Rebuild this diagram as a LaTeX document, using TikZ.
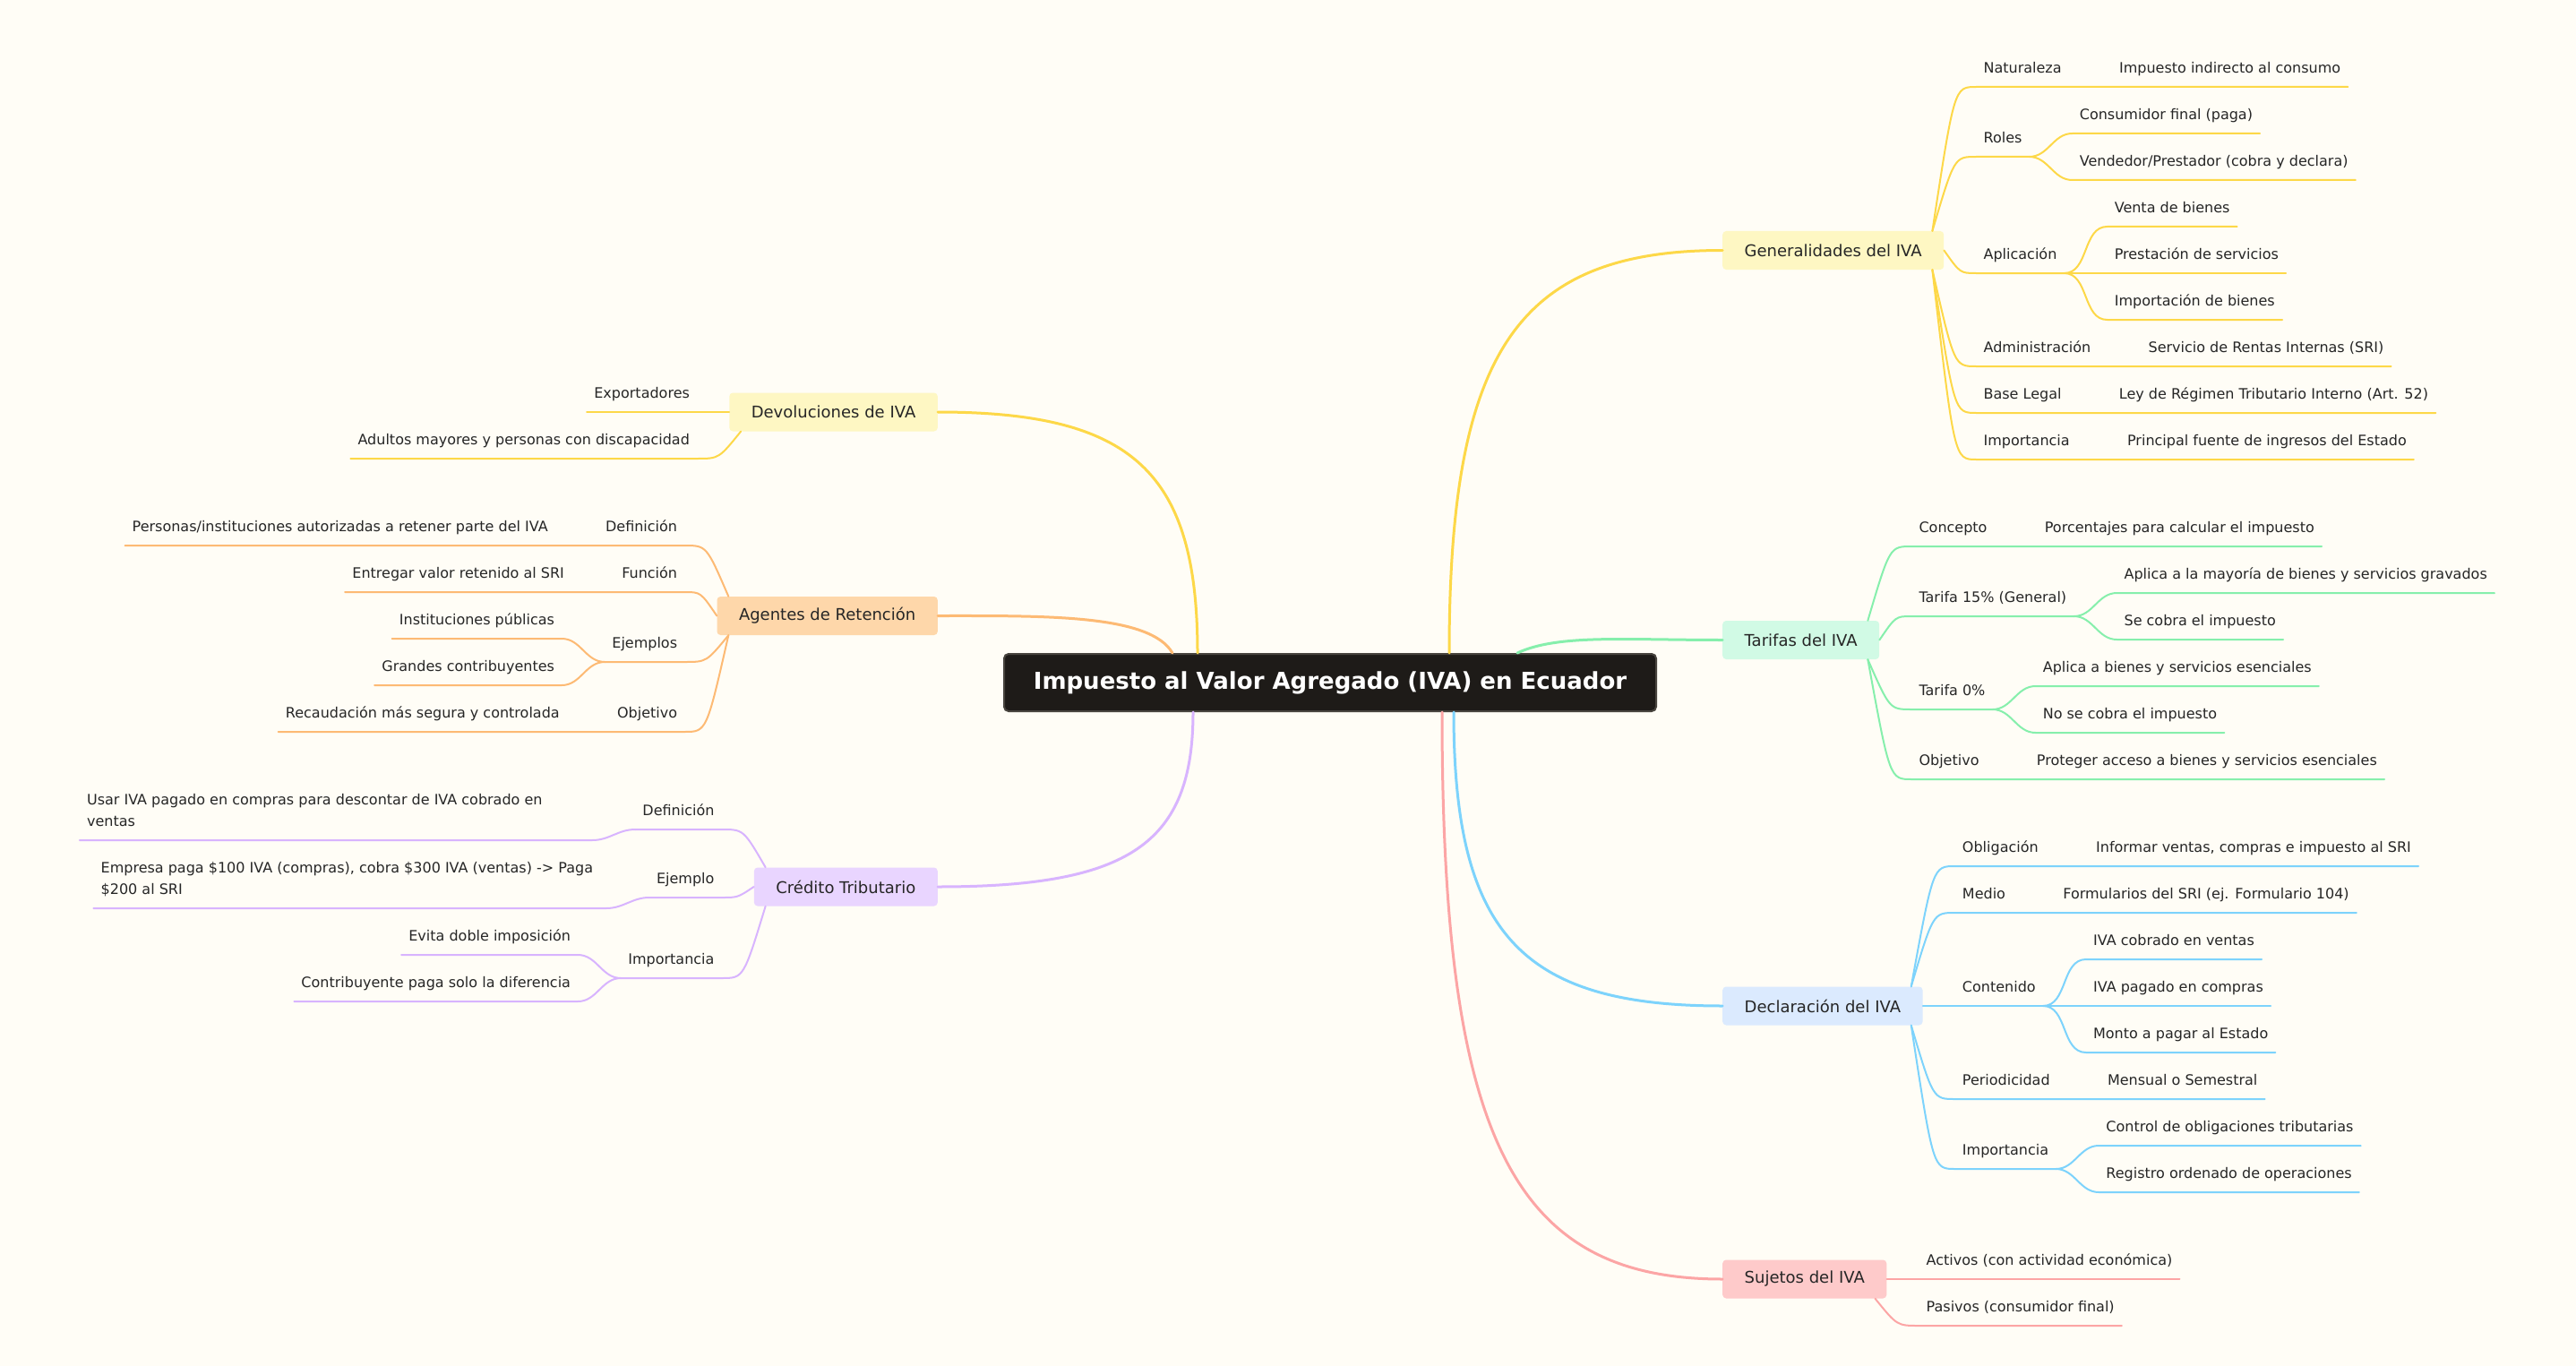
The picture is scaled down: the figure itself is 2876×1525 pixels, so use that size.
\documentclass[tikz,border=0pt]{standalone}
\usepackage{fontspec}
\setmainfont{DejaVu Sans}
\usepackage{tikz}
\usetikzlibrary{calc}

\definecolor{bg}{HTML}{FFFDF6}
\definecolor{ink}{HTML}{262626}
\definecolor{rootfill}{HTML}{1E1B18}
\definecolor{rootedge}{HTML}{48443E}
\definecolor{yelLine}{HTML}{FDD848}
\definecolor{yelFill}{HTML}{FEF7C3}
\definecolor{grnLine}{HTML}{86EFAC}
\definecolor{grnFill}{HTML}{D1FAE5}
\definecolor{bluLine}{HTML}{7DD3FC}
\definecolor{bluFill}{HTML}{DBEAFE}
\definecolor{pnkLine}{HTML}{FCA5A5}
\definecolor{pnkFill}{HTML}{FECACA}
\definecolor{orgLine}{HTML}{FDBA74}
\definecolor{orgFill}{HTML}{FED7AA}
\definecolor{purLine}{HTML}{D8B4FE}
\definecolor{purFill}{HTML}{E9D5FF}

\newcommand\fsmall{\fontsize{16}{24}\selectfont}
\newcommand\fmid{\fontsize{18}{22}\selectfont}
\newcommand\fbig{\fontsize{26}{30}\selectfont\bfseries}

\begin{document}
\begin{tikzpicture}[x=1pt, y=-1pt, line cap=round,
  rootbox/.style={draw=rootedge, fill=rootfill, line width=2, rounded corners=5,
                  text=white, font=\fbig, minimum width=728, minimum height=64},
  topic/.style={rounded corners=4, text=ink, font=\fmid, inner xsep=24.5,
                inner ysep=0, minimum height=43},
  leaf/.style={text=ink, font=\fsmall, inner xsep=8, inner ysep=11, text depth=4},
  trunk/.style={line width=3},
  twig/.style={line width=2}]
  \useasboundingbox[fill=bg] (0,0) rectangle (2876,1525);

  % centre and main topics
  \node[rootbox] (root) at (1485,762) {Impuesto al Valor Agregado (IVA) en Ecuador};
  \node[topic, fill=yelFill, anchor=west] (gen) at (1923,279.5) {Generalidades del IVA};
  \node[topic, fill=grnFill, anchor=west] (tar) at (1923,714.5) {Tarifas del IVA};
  \node[topic, fill=bluFill, anchor=west] (dec) at (1923,1123) {Declaración del IVA};
  \node[topic, fill=pnkFill, anchor=west] (suj) at (1923,1428) {Sujetos del IVA};
  \node[topic, fill=yelFill, anchor=east] (dev) at (1047,460) {Devoluciones de IVA};
  \node[topic, fill=orgFill, anchor=east] (age) at (1047,687.5) {Agentes de Retención};
  \node[topic, fill=purFill, anchor=east] (cre) at (1047,990) {Crédito Tributario};

  % main branches
  \draw[trunk, yelLine] ([xshift=133]root.north) to[out=90, in=180, out distance=337, in distance=229] (gen.west);
  \draw[trunk, grnLine] ([xshift=209]root.north) to[out=25, in=180, out distance=50, in distance=110] (tar.west);
  \draw[trunk, bluLine] ([xshift=138]root.south) to[out=-90, in=180, out distance=247, in distance=225] (dec.west);
  \draw[trunk, pnkLine] ([xshift=125]root.south) to[out=-90, in=180, out distance=475, in distance=235] (suj.west);
  \draw[trunk, yelLine] ([xshift=-148]root.north) to[out=90, in=0, out distance=202, in distance=218] (dev.east);
  \draw[trunk, orgLine] ([xshift=-176]root.north) to[out=120, in=0, out distance=50, in distance=120] (age.east);
  \draw[trunk, purLine] ([xshift=-153]root.south) to[out=-90, in=0, out distance=147, in distance=214] (cre.east);

  % start points of the sub-branches
  \coordinate (genT) at ([xshift=-13]gen.north east);
  \coordinate (genB) at ([xshift=-13]gen.south east);
  \coordinate (genX) at ([xshift=36]gen.east);
  \coordinate (tarT) at ([xshift=-13]tar.north east);
  \coordinate (tarB) at ([xshift=-13]tar.south east);
  \coordinate (tarX) at ([xshift=36]tar.east);
  \coordinate (decT) at ([xshift=-13]dec.north east);
  \coordinate (decB) at ([xshift=-13]dec.south east);
  \coordinate (decX) at ([xshift=36]dec.east);
  \coordinate (sujB) at ([xshift=-13]suj.south east);
  \coordinate (sujX) at ([xshift=36]suj.east);
  \coordinate (devB) at ([xshift=13]dev.south west);
  \coordinate (devX) at ([xshift=-36]dev.west);
  \coordinate (ageT) at ([xshift=13]age.north west);
  \coordinate (ageB) at ([xshift=13]age.south west);
  \coordinate (ageX) at ([xshift=-36]age.west);
  \coordinate (creT) at ([xshift=13]cre.north west);
  \coordinate (creB) at ([xshift=13]cre.south west);
  \coordinate (creX) at ([xshift=-36]cre.west);

  % Generalidades del IVA
  \node[leaf, anchor=south west] (gNat) at (genX |- 0,97) {Naturaleza};
  \node[leaf, anchor=south west] (gNat1) at ([xshift=48]gNat.south east) {Impuesto indirecto al consumo};
  \node[leaf, anchor=south west] (gRol) at (genX |- 0,175) {Roles};
  \node[leaf, anchor=south west] (gRol1) at ([xshift=48,yshift=26]gRol.south east) {Consumidor final (paga)};
  \node[leaf, anchor=south west] (gRol2) at ([xshift=48,yshift=-26]gRol.south east) {Vendedor/Prestador (cobra y declara)};
  \node[leaf, anchor=south west] (gApl) at (genX |- 0,305) {Aplicación};
  \node[leaf, anchor=south west] (gApl1) at ([xshift=48,yshift=52]gApl.south east) {Venta de bienes};
  \node[leaf, anchor=south west] (gApl2) at ([xshift=48]gApl.south east) {Prestación de servicios};
  \node[leaf, anchor=south west] (gApl3) at ([xshift=48,yshift=-52]gApl.south east) {Importación de bienes};
  \node[leaf, anchor=south west] (gAdm) at (genX |- 0,409) {Administración};
  \node[leaf, anchor=south west] (gAdm1) at ([xshift=48]gAdm.south east) {Servicio de Rentas Internas (SRI)};
  \node[leaf, anchor=south west] (gBas) at (genX |- 0,461) {Base Legal};
  \node[leaf, anchor=south west] (gBas1) at ([xshift=48]gBas.south east) {Ley de Régimen Tributario Interno (Art. 52)};
  \node[leaf, anchor=south west] (gImp) at (genX |- 0,513) {Importancia};
  \node[leaf, anchor=south west] (gImp1) at ([xshift=48]gImp.south east) {Principal fuente de ingresos del Estado};
  \begin{scope}[twig, yelLine]
    \draw (genT) .. controls ($(genT |- gNat.south west)!0.5!(gNat.south west)$) .. (gNat.south west) -- (gNat1.south east);
    \draw (genT) .. controls ($(genT |- gRol.south west)!0.5!(gRol.south west)$) .. (gRol.south west) -- (gRol.south east);
    \draw (gRol.south east) to[out=0, in=180] (gRol1.south west) -- (gRol1.south east);
    \draw (gRol.south east) to[out=0, in=180] (gRol2.south west) -- (gRol2.south east);
    \draw (gen.east) .. controls ($(gen.east |- gApl.south west)!0.5!(gApl.south west)$) .. (gApl.south west) -- (gApl.south east);
    \draw (gApl.south east) to[out=0, in=180] (gApl1.south west) -- (gApl1.south east);
    \draw (gApl.south east) -- (gApl2.south west) -- (gApl2.south east);
    \draw (gApl.south east) to[out=0, in=180] (gApl3.south west) -- (gApl3.south east);
    \draw (genB) .. controls ($(genB |- gAdm.south west)!0.5!(gAdm.south west)$) .. (gAdm.south west) -- (gAdm1.south east);
    \draw (genB) .. controls ($(genB |- gBas.south west)!0.5!(gBas.south west)$) .. (gBas.south west) -- (gBas1.south east);
    \draw (genB) .. controls ($(genB |- gImp.south west)!0.5!(gImp.south west)$) .. (gImp.south west) -- (gImp1.south east);
  \end{scope}

  % Tarifas del IVA
  \node[leaf, anchor=south west] (tCon) at (tarX |- 0,610) {Concepto};
  \node[leaf, anchor=south west] (tCon1) at ([xshift=48]tCon.south east) {Porcentajes para calcular el impuesto};
  \node[leaf, anchor=south west] (tGen) at (tarX |- 0,688) {Tarifa 15\% (General)};
  \node[leaf, anchor=south west] (tGen1) at ([xshift=48,yshift=26]tGen.south east) {Aplica a la mayoría de bienes y servicios gravados};
  \node[leaf, anchor=south west] (tGen2) at ([xshift=48,yshift=-26]tGen.south east) {Se cobra el impuesto};
  \node[leaf, anchor=south west] (tCero) at (tarX |- 0,792) {Tarifa 0\%};
  \node[leaf, anchor=south west] (tCero1) at ([xshift=48,yshift=26]tCero.south east) {Aplica a bienes y servicios esenciales};
  \node[leaf, anchor=south west] (tCero2) at ([xshift=48,yshift=-26]tCero.south east) {No se cobra el impuesto};
  \node[leaf, anchor=south west] (tObj) at (tarX |- 0,870) {Objetivo};
  \node[leaf, anchor=south west] (tObj1) at ([xshift=48]tObj.south east) {Proteger acceso a bienes y servicios esenciales};
  \begin{scope}[twig, grnLine]
    \draw (tarT) .. controls ($(tarT |- tCon.south west)!0.5!(tCon.south west)$) .. (tCon.south west) -- (tCon1.south east);
    \draw (tar.east) .. controls ($(tar.east |- tGen.south west)!0.5!(tGen.south west)$) .. (tGen.south west) -- (tGen.south east);
    \draw (tGen.south east) to[out=0, in=180] (tGen1.south west) -- (tGen1.south east);
    \draw (tGen.south east) to[out=0, in=180] (tGen2.south west) -- (tGen2.south east);
    \draw (tarB) .. controls ($(tarB |- tCero.south west)!0.5!(tCero.south west)$) .. (tCero.south west) -- (tCero.south east);
    \draw (tCero.south east) to[out=0, in=180] (tCero1.south west) -- (tCero1.south east);
    \draw (tCero.south east) to[out=0, in=180] (tCero2.south west) -- (tCero2.south east);
    \draw (tarB) .. controls ($(tarB |- tObj.south west)!0.5!(tObj.south west)$) .. (tObj.south west) -- (tObj1.south east);
  \end{scope}

  % Declaración del IVA
  \node[leaf, anchor=south west] (dObl) at (decX |- 0,967) {Obligación};
  \node[leaf, anchor=south west] (dObl1) at ([xshift=48]dObl.south east) {Informar ventas, compras e impuesto al SRI};
  \node[leaf, anchor=south west] (dMed) at (decX |- 0,1019) {Medio};
  \node[leaf, anchor=south west] (dMed1) at ([xshift=48]dMed.south east) {Formularios del SRI (ej. Formulario 104)};
  \node[leaf, anchor=south west] (dCon) at (decX |- 0,1123) {Contenido};
  \node[leaf, anchor=south west] (dCon1) at ([xshift=48,yshift=52]dCon.south east) {IVA cobrado en ventas};
  \node[leaf, anchor=south west] (dCon2) at ([xshift=48]dCon.south east) {IVA pagado en compras};
  \node[leaf, anchor=south west] (dCon3) at ([xshift=48,yshift=-52]dCon.south east) {Monto a pagar al Estado};
  \node[leaf, anchor=south west] (dPer) at (decX |- 0,1227) {Periodicidad};
  \node[leaf, anchor=south west] (dPer1) at ([xshift=48]dPer.south east) {Mensual o Semestral};
  \node[leaf, anchor=south west] (dImp) at (decX |- 0,1305) {Importancia};
  \node[leaf, anchor=south west] (dImp1) at ([xshift=48,yshift=26]dImp.south east) {Control de obligaciones tributarias};
  \node[leaf, anchor=south west] (dImp2) at ([xshift=48,yshift=-26]dImp.south east) {Registro ordenado de operaciones};
  \begin{scope}[twig, bluLine]
    \draw (decT) .. controls ($(decT |- dObl.south west)!0.5!(dObl.south west)$) .. (dObl.south west) -- (dObl1.south east);
    \draw (decT) .. controls ($(decT |- dMed.south west)!0.5!(dMed.south west)$) .. (dMed.south west) -- (dMed1.south east);
    \draw (dec.east) -- (dCon.south west) -- (dCon.south east);
    \draw (dCon.south east) to[out=0, in=180] (dCon1.south west) -- (dCon1.south east);
    \draw (dCon.south east) -- (dCon2.south west) -- (dCon2.south east);
    \draw (dCon.south east) to[out=0, in=180] (dCon3.south west) -- (dCon3.south east);
    \draw (decB) .. controls ($(decB |- dPer.south west)!0.5!(dPer.south west)$) .. (dPer.south west) -- (dPer1.south east);
    \draw (decB) .. controls ($(decB |- dImp.south west)!0.5!(dImp.south west)$) .. (dImp.south west) -- (dImp.south east);
    \draw (dImp.south east) to[out=0, in=180] (dImp1.south west) -- (dImp1.south east);
    \draw (dImp.south east) to[out=0, in=180] (dImp2.south west) -- (dImp2.south east);
  \end{scope}

  % Sujetos del IVA
  \node[leaf, anchor=south west] (sAct) at (sujX |- 0,1428) {Activos (con actividad económica)};
  \node[leaf, anchor=south west] (sPas) at (sujX |- 0,1480) {Pasivos (consumidor final)};
  \begin{scope}[twig, pnkLine]
    \draw (suj.east) -- (sAct.south west) -- (sAct.south east);
    \draw (sujB) .. controls ($(sujB |- sPas.south west)!0.5!(sPas.south west)$) .. (sPas.south west) -- (sPas.south east);
  \end{scope}

  % Devoluciones de IVA
  \node[leaf, anchor=south east] (vExp) at (devX |- 0,460) {Exportadores};
  \node[leaf, anchor=south east] (vAdu) at (devX |- 0,512) {Adultos mayores y personas con discapacidad};
  \begin{scope}[twig, yelLine]
    \draw (dev.west) -- (vExp.south east) -- (vExp.south west);
    \draw (devB) .. controls ($(devB |- vAdu.south east)!0.5!(vAdu.south east)$) .. (vAdu.south east) -- (vAdu.south west);
  \end{scope}

  % Agentes de Retención
  \node[leaf, anchor=south east] (aDef) at (ageX |- 0,609) {Definición};
  \node[leaf, anchor=south east] (aDef1) at ([xshift=-48]aDef.south west) {Personas/instituciones autorizadas a retener parte del IVA};
  \node[leaf, anchor=south east] (aFun) at (ageX |- 0,661) {Función};
  \node[leaf, anchor=south east] (aFun1) at ([xshift=-48]aFun.south west) {Entregar valor retenido al SRI};
  \node[leaf, anchor=south east] (aEje) at (ageX |- 0,739) {Ejemplos};
  \node[leaf, anchor=south east] (aEje1) at ([xshift=-48,yshift=26]aEje.south west) {Instituciones públicas};
  \node[leaf, anchor=south east] (aEje2) at ([xshift=-48,yshift=-26]aEje.south west) {Grandes contribuyentes};
  \node[leaf, anchor=south east] (aObj) at (ageX |- 0,817) {Objetivo};
  \node[leaf, anchor=south east] (aObj1) at ([xshift=-48]aObj.south west) {Recaudación más segura y controlada};
  \begin{scope}[twig, orgLine]
    \draw (ageT) .. controls ($(ageT |- aDef.south east)!0.5!(aDef.south east)$) .. (aDef.south east) -- (aDef1.south west);
    \draw (age.west) .. controls ($(age.west |- aFun.south east)!0.5!(aFun.south east)$) .. (aFun.south east) -- (aFun1.south west);
    \draw (ageB) .. controls ($(ageB |- aEje.south east)!0.5!(aEje.south east)$) .. (aEje.south east) -- (aEje.south west);
    \draw (aEje.south west) to[out=180, in=0] (aEje1.south east) -- (aEje1.south west);
    \draw (aEje.south west) to[out=180, in=0] (aEje2.south east) -- (aEje2.south west);
    \draw (ageB) .. controls ($(ageB |- aObj.south east)!0.5!(aObj.south east)$) .. (aObj.south east) -- (aObj1.south west);
  \end{scope}

  % Crédito Tributario
  \node[leaf, anchor=south east] (cDef) at (creX |- 0,926) {Definición};
  \node[leaf, anchor=south east] (cDef1) at ([xshift=-48,yshift=-12]cDef.south west)
    {\parbox[b]{556pt}{\raggedright Usar IVA pagado en compras para descontar de IVA cobrado en\\ventas}};
  \node[leaf, anchor=south east] (cEje) at (creX |- 0,1002) {Ejemplo};
  \node[leaf, anchor=south east] (cEje1) at ([xshift=-48,yshift=-12]cEje.south west)
    {\parbox[b]{556pt}{\raggedright Empresa paga \$100 IVA (compras), cobra \$300 IVA (ventas) -> Paga\\\$200 al SRI}};
  \node[leaf, anchor=south east] (cImp) at (creX |- 0,1092) {Importancia};
  \node[leaf, anchor=south east] (cImp1) at ([xshift=-48,yshift=26]cImp.south west) {Evita doble imposición};
  \node[leaf, anchor=south east] (cImp2) at ([xshift=-48,yshift=-26]cImp.south west) {Contribuyente paga solo la diferencia};
  \begin{scope}[twig, purLine]
    \draw (creT) .. controls ($(creT |- cDef.south east)!0.5!(cDef.south east)$) .. (cDef.south east) -- (cDef.south west);
    \draw (cDef.south west) to[out=180, in=0] (cDef1.south east) -- (cDef1.south west);
    \draw (cre.west) .. controls ($(cre.west |- cEje.south east)!0.5!(cEje.south east)$) .. (cEje.south east) -- (cEje.south west);
    \draw (cEje.south west) to[out=180, in=0] (cEje1.south east) -- (cEje1.south west);
    \draw (creB) .. controls ($(creB |- cImp.south east)!0.5!(cImp.south east)$) .. (cImp.south east) -- (cImp.south west);
    \draw (cImp.south west) to[out=180, in=0] (cImp1.south east) -- (cImp1.south west);
    \draw (cImp.south west) to[out=180, in=0] (cImp2.south east) -- (cImp2.south west);
  \end{scope}
\end{tikzpicture}
\end{document}
